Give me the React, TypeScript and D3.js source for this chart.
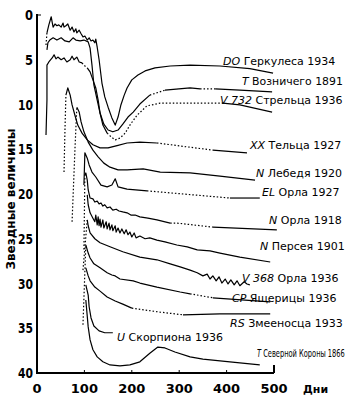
import React, { useLayoutEffect, useRef, useState } from "react";
import * as d3 from "d3";

type P = [number, number];

// ---- axis ticks ----
const dayTicks = [0, 100, 200, 300, 400, 500];
const magTicks = [0, 5, 10, 15, 20, 25, 30, 35, 40];

// ---- light curves: [day, magnitude (offset scale)] ----
const doHer: P[] = [[19,3.35],[21,2.0],[25,1.1],[30,0.2],[32,0.8],[34,1.35],[38,1.0],[42,1.2],[46,1.1],[51,1.35],[55,0.9],[57,1.35],[61,1.2],[65,1.0],[70,1.7],[74,1.35],[78,1.9],[82,1.55],[84,2.0],[89,1.7],[93,2.1],[97,2.45],[101,2.35],[106,2.8],[110,2.55],[114,2.9],[118,2.8],[122,3.1],[124,2.7],[127,3.6],[131,5.0],[137,7.6],[143,9.15],[150,10.3],[158,11.5],[165,12.3],[171,11.4],[177,10.05],[184,8.95],[190,8.15],[200,7.25],[213,6.7],[228,6.25],[249,5.9],[281,5.7],[323,5.6],[386,5.7],[449,6.0],[498,6.5]];
const doHerDotted = [[0, 1]];

const tAur: P[] = [[21,3.9],[23,3.1],[27,2.8],[34,2.55],[42,2.8],[51,2.55],[59,2.9],[68,3.0],[76,2.55],[82,2.8],[91,2.9],[99,2.8],[108,3.0],[112,3.7],[116,5.6],[120,7.8],[127,9.5],[133,10.95],[141,12.2],[150,12.85],[160,13.05],[171,12.85],[181,12.2],[192,11.4],[203,10.85],[217,9.95],[238,8.95],[270,8.4],[323,8.15],[344,8.25],[376,8.25],[428,8.4],[496,8.6]];
const tAurDotted = [[26, 27], [29, 30]];

const v732Sgr: P[] = [[19,13.4],[21,9.5],[21,5.6],[25,5.25],[32,4.8],[36,4.45],[40,4.9],[44,4.7],[51,5.0],[57,4.8],[63,5.25],[70,5.0],[74,4.6],[78,5.0],[84,4.7],[89,5.25],[95,5.35],[99,5.6],[106,5.9],[112,6.35],[118,7.25],[124,8.15],[129,9.5],[133,10.95],[139,12.3],[148,13.2],[156,13.6],[165,13.95],[175,13.75],[186,13.2],[196,12.3],[211,11.2],[232,10.15],[260,9.85],[323,9.85],[392,9.85],[428,10.05],[496,10.85]];
const v732SgrDotted = [[16, 18], [25, 35]];

const xxTau: P[] = [[57,17.55],[59,12.85],[61,8.95],[65,8.15],[70,8.95],[74,10.05],[80,11.2],[86,12.3],[95,13.2],[106,13.95],[118,14.5],[133,14.85],[150,14.85],[169,14.6],[190,14.3],[217,14.2],[253,14.3],[371,15.1],[443,15.4]];
const xxTauDotted = [[0, 2], [16, 17]];

const nCyg: P[] = [[74,23.1],[80,15.1],[84,10.3],[89,10.85],[93,11.95],[99,13.05],[108,14.2],[118,15.1],[129,15.85],[141,16.55],[154,17.0],[171,17.3],[190,17.3],[224,17.2],[260,17.55],[323,17.65],[386,18.0],[460,18.45]];
const nCygDotted = [[0, 2]];

const elAql: P[] = [[99,19.0],[101,15.4],[106,16.0],[110,16.75],[116,17.55],[124,18.1],[135,19.0],[148,19.2],[158,19.0],[165,18.3],[171,19.2],[190,19.45],[232,19.65],[407,20.45],[470,20.45]];
const elAqlDotted = [[12, 13]];

const nAql: P[] = [[99,26.2],[101,17.9],[103,17.65],[106,18.45],[108,19.55],[112,20.45],[118,20.55],[122,20.9],[127,20.8],[131,21.1],[135,21.0],[139,21.35],[143,21.2],[148,21.55],[154,21.45],[160,21.8],[167,21.7],[173,21.9],[181,22.0],[190,22.1],[198,22.35],[207,22.35],[217,22.55],[234,22.7],[253,22.9],[281,23.25],[295,23.25],[371,23.7],[506,24.0]];
const nAqlDotted = [[0, 1], [25, 27]];

const nPer: P[] = [[106,20.1],[108,21.2],[112,22.1],[118,22.7],[122,23.1],[124,22.35],[127,23.45],[129,22.55],[131,23.55],[133,22.8],[135,23.7],[139,22.9],[141,23.8],[146,23.1],[148,23.9],[152,23.25],[154,24.0],[158,23.45],[160,24.1],[165,23.55],[167,24.25],[171,23.8],[175,24.35],[179,23.9],[184,24.45],[188,24.0],[192,24.55],[196,24.25],[200,24.8],[205,24.35],[209,24.9],[217,24.7],[228,25.0],[238,24.9],[253,25.15],[270,25.35],[295,25.7],[317,25.9],[338,26.25],[365,26.35],[386,26.6],[428,27.05],[492,27.6]];

const v368Aql: P[] = [[97,28.5],[106,22.9],[108,23.55],[112,24.35],[122,25.0],[133,25.45],[154,25.9],[181,26.45],[217,27.05],[253,27.35],[281,27.8],[302,28.15],[323,28.5],[338,28.8],[350,29.15],[359,28.95],[365,29.5],[371,29.15],[378,29.7],[384,29.25],[390,29.95],[397,29.5],[403,30.05],[409,29.6],[416,30.15],[422,29.7],[428,30.25],[437,29.8],[443,30.05],[449,30.15]];
const v368AqlDotted = [[0, 1]];

const cpLac: P[] = [[97,34.6],[103,25.7],[108,26.6],[112,27.15],[120,27.8],[133,28.25],[148,28.8],[158,29.05],[165,29.15],[175,29.5],[203,29.7],[217,29.95],[253,30.4],[302,30.95],[323,31.15],[371,31.6],[492,32.05]];
const cpLacDotted = [[0, 1], [14, 15]];

const rsOph: P[] = [[103,28.25],[108,29.15],[112,29.7],[122,30.4],[133,30.85],[148,31.5],[165,31.95],[181,32.3],[200,32.75],[260,33.2],[308,33.5],[386,33.4],[492,33.4]];
const rsOphDotted = [[8, 10]];

const uSco: P[] = [[103,30.15],[108,31.3],[110,32.6],[114,33.85],[120,34.75],[131,35.3],[143,35.5],[160,35.5]];

const tCrB: P[] = [[103,31.85],[108,34.85],[112,36.3],[118,37.4],[127,38.2],[139,38.75],[154,39.1],[175,39.2],[196,39.1],[217,38.75],[238,37.8],[255,37.1],[270,37.2],[291,37.65],[323,38.2],[350,38.45],[407,38.75],[470,39.1]];

// ---- star labels ----
const starDesig = ["DO", "T", "V 732", "XX", "N", "EL", "N", "N", "V 368", "CP", "RS", "U", "T"];
const starName = ["Геркулеса 1934", "Возничего 1891", "Стрельца 1936", "Тельца 1927", "Лебедя 1920", "Орла 1927", "Орла 1918", "Персея 1901", "Орла 1936", "Ящерицы 1936", "Змееносца 1933", "Скорпиона 1936", "Северной Короны 1866"];

const curves: { pts: P[]; dotted: number[][] }[] = [
  { pts: doHer, dotted: doHerDotted },
  { pts: tAur, dotted: tAurDotted },
  { pts: v732Sgr, dotted: v732SgrDotted },
  { pts: xxTau, dotted: xxTauDotted },
  { pts: nCyg, dotted: nCygDotted },
  { pts: elAql, dotted: elAqlDotted },
  { pts: nAql, dotted: nAqlDotted },
  { pts: nPer, dotted: [] },
  { pts: v368Aql, dotted: v368AqlDotted },
  { pts: cpLac, dotted: cpLacDotted },
  { pts: rsOph, dotted: rsOphDotted },
  { pts: uSco, dotted: [] },
  { pts: tCrB, dotted: [] },
];

// label layout: [x start, x end, baseline y]
const labelLayout: [number, number, number][] = [
  [223, 343, 65], [242, 343, 85], [220, 347, 104], [250, 345, 149], [256, 345, 177],
  [262, 345, 196], [269, 345, 224], [260, 345, 250], [242, 345, 282], [232, 345, 302],
  [230, 346, 327], [117, 225, 341], [257, 345, 357],
];

const FONT = "'DejaVu Sans', sans-serif";

export default function App() {
  const x = d3.scaleLinear().domain([0, 500]).range([37, 274]);
  const y = d3.scaleLinear().domain([0, 40]).range([15, 373]);
  const line = d3.line<P>().x((d) => x(d[0])).y((d) => y(d[1]));

  const refs = useRef<(SVGTextElement | null)[]>([]);
  const [widths, setWidths] = useState<number[] | null>(null);
  useLayoutEffect(() => {
    setWidths(refs.current.map((t) => (t ? t.getComputedTextLength() : 1)));
  }, []);

  const paths: { d: string; dotted: boolean }[] = [];
  curves.forEach((c) => {
    const isDot = (i: number) => c.dotted.some(([a, b]) => i >= a && i < b);
    let start = 0;
    for (let i = 1; i <= c.pts.length - 1; i++) {
      const cur = isDot(i - 1);
      const next = i < c.pts.length - 1 ? isDot(i) : !cur;
      if (next !== cur || i === c.pts.length - 1) {
        paths.push({ d: line(c.pts.slice(start, i + 1)) || "", dotted: cur });
        start = i;
      }
    }
  });

  return (
    <svg width={358} height={400} style={{ position: "absolute", left: 0, top: 0, background: "#fff" }}>
      {/* axes */}
      <line x1={x(0)} y1={y(0) - 1} x2={x(0)} y2={y(40) + 1} stroke="#000" strokeWidth={2} />
      <line x1={x(0) - 1} y1={y(40)} x2={x(500)} y2={y(40)} stroke="#000" strokeWidth={2} />
      <line x1={x(0)} y1={y(0)} x2={x(0) + 4} y2={y(0)} stroke="#000" strokeWidth={1} />
      {dayTicks.slice(1).map((t) => (
        <line key={t} x1={x(t)} y1={y(40)} x2={x(t)} y2={y(40) - (t === 500 ? 8 : 3)} stroke="#000" strokeWidth={t === 500 ? 2 : 1} />
      ))}
      {magTicks.map((t) => (
        <text key={t} x={33} y={y(t) + 5} textAnchor="end" fontFamily={FONT} fontSize={14} fontWeight="bold" textLength={t >= 10 ? 15 : 8} lengthAdjust="spacingAndGlyphs">{t}</text>
      ))}
      {dayTicks.map((t) => (
        <text key={t} x={x(t)} y={393} textAnchor="middle" fontFamily={FONT} fontSize={13} fontWeight="bold">{t}</text>
      ))}
      <text x={303} y={393} fontFamily={FONT} fontSize={11} fontWeight="bold">Дни</text>
      <text transform="translate(15,199) rotate(-90)" textAnchor="middle" fontFamily={FONT} fontSize={12} fontWeight="bold">Звездные величины</text>

      {/* curves */}
      {paths.map((p, i) => (
        <path key={i} d={p.d} fill="none" stroke="#000" strokeWidth={1.2} strokeDasharray={p.dotted ? "1.5,2" : undefined} strokeLinejoin="round" />
      ))}

      {/* labels */}
      {labelLayout.map(([x0, x1, by], i) => {
        const sx = widths ? Math.min(1, (x1 - x0) / Math.max(1, widths[i])) : 1;
        return (
          <g key={i} transform={`translate(${x0},${by}) scale(${sx},1)`}>
            <text ref={(el) => { refs.current[i] = el; }} x={0} y={0} fontFamily={FONT} fontSize={11}>
              <tspan fontStyle="italic">{starDesig[i]}</tspan>
              <tspan> {starName[i]}</tspan>
            </text>
          </g>
        );
      })}
    </svg>
  );
}
